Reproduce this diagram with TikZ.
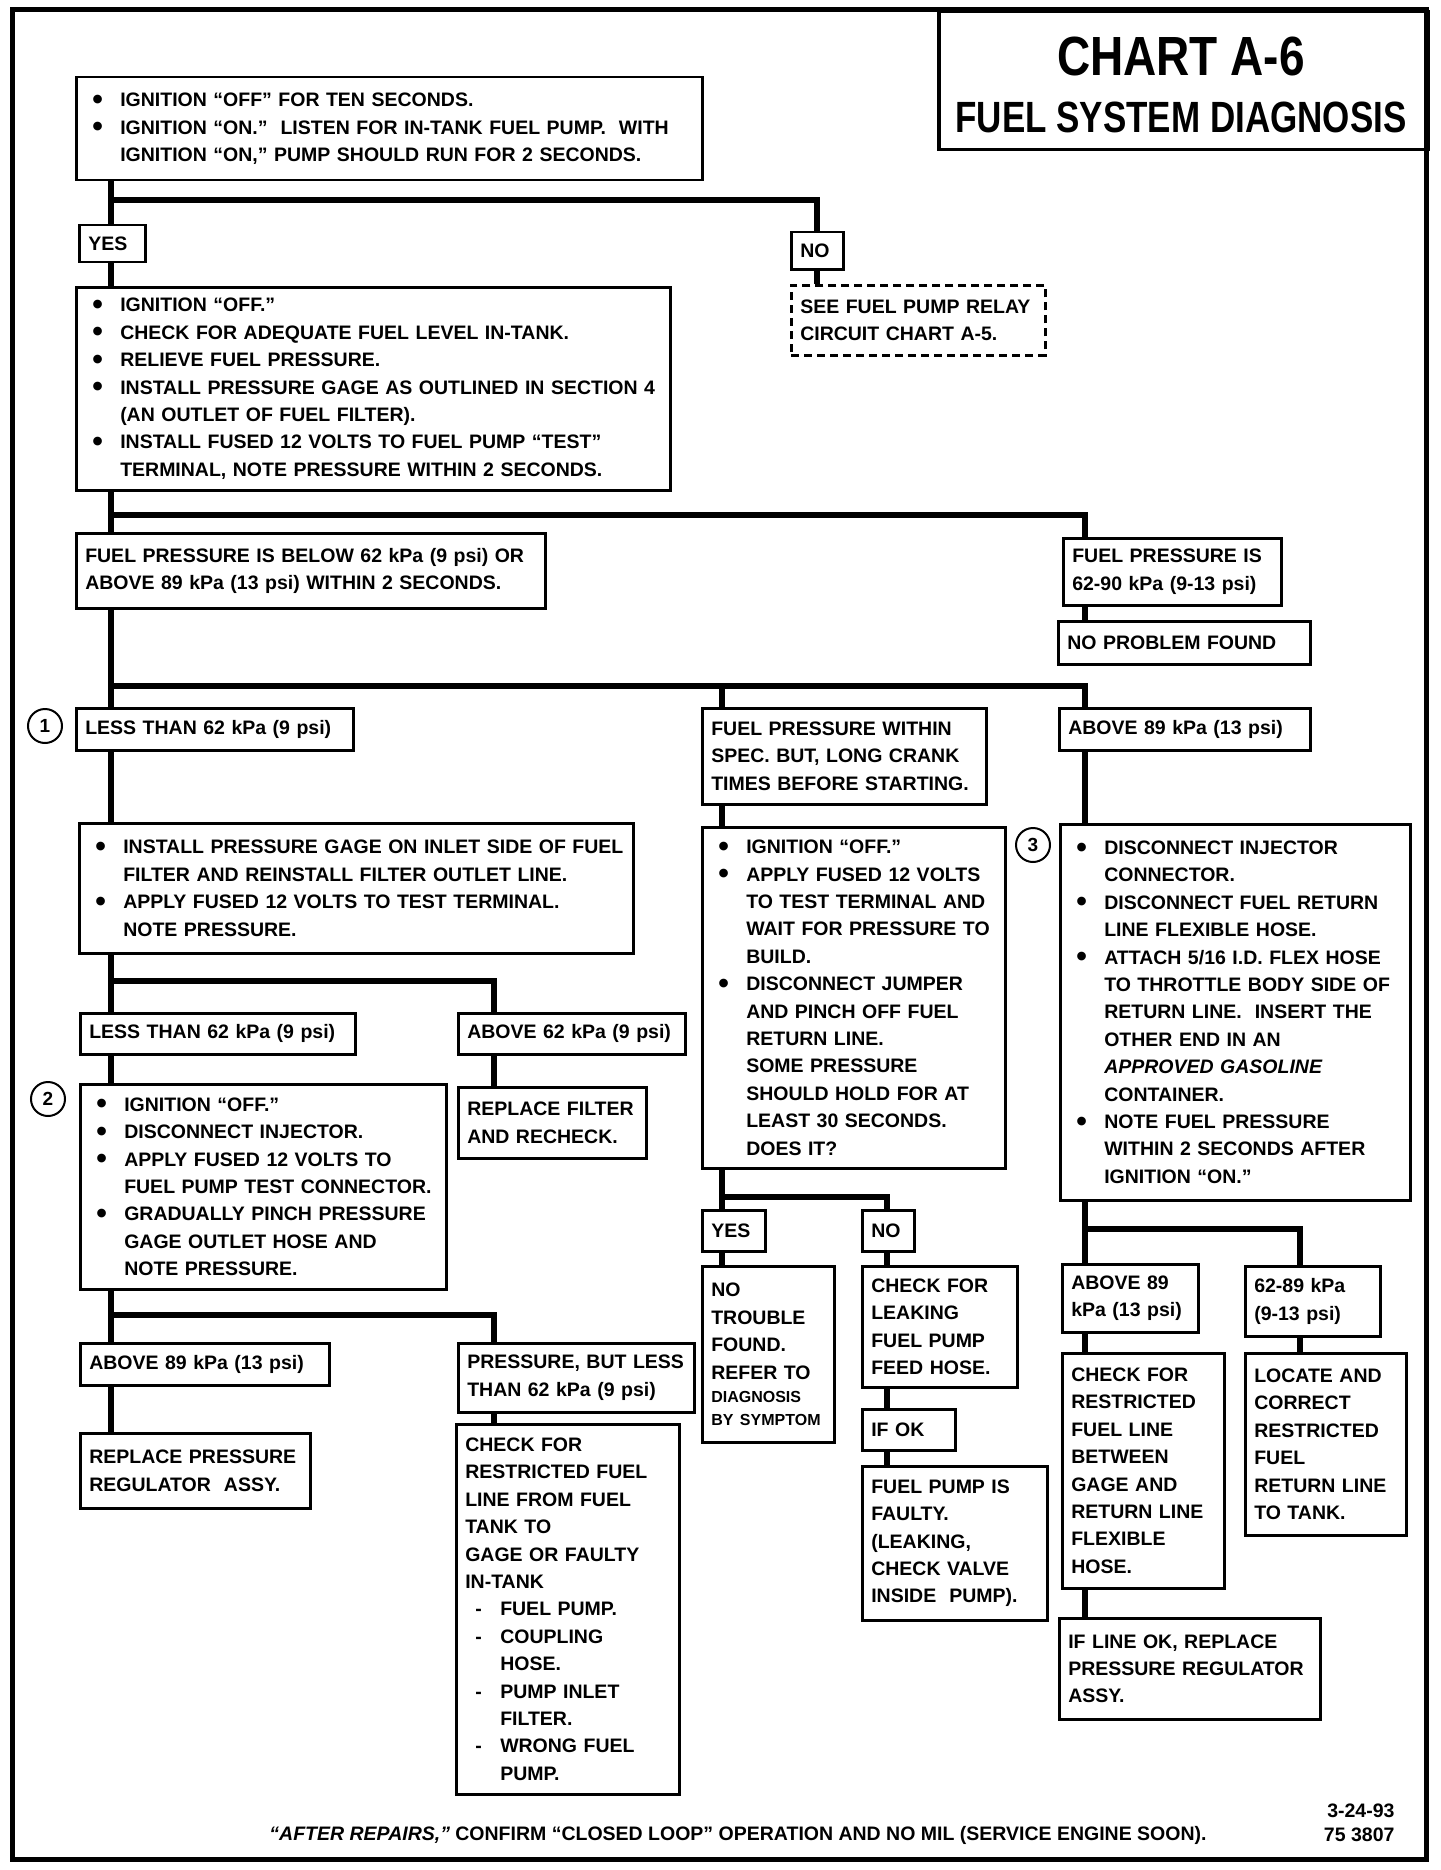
\documentclass[tikz,border=0pt]{standalone}
\usepackage{fontspec}
\setmainfont{Liberation Sans}
\usepackage{tikz}
\usetikzlibrary{backgrounds}
\setlength{\parindent}{0pt}

\newcommand{\boxfont}{\bfseries\fontsize{19.5}{27.4}\selectfont}
\newcommand{\bul}{\makebox[35pt][l]{\hspace{7pt}\raisebox{-0.25ex}{\scalebox{1.55}{\textbullet}}}}
\newcommand{\dsh}{\makebox[35pt][l]{\hspace{10pt}-}}
\newcommand{\hng}{\hspace*{35pt}}

\tikzset{
  box/.style={draw, line width=2.5pt, fill=white, anchor=north west,
    inner xsep=9pt, inner ysep=0pt, align=left, font=\boxfont},
  dashbox/.style={box, dash pattern=on 8pt off 5pt},
  trunk/.style={line width=6pt},
  numc/.style={circle, draw, line width=2pt, fill=white, minimum size=34pt,
    inner sep=0pt, font=\bfseries\fontsize{19}{19}\selectfont},
}

\begin{document}
\begin{tikzpicture}[x=1pt, y=-1pt]
  \useasboundingbox (0,0) rectangle (1440,1870);
  \draw[line width=5pt] (12,10) rectangle (1426,1859);
  \node[draw, line width=3.5pt, anchor=north west, minimum width=489pt,
    minimum height=138pt, inner sep=0pt] (title) at (937,10) {};
  \node[font=\bfseries\fontsize{46}{46}\selectfont] (chart) at (1181,57)
    {\scalebox{1}[1.2]{CHART A-6}};
  \node[font=\bfseries\fontsize{35}{35}\selectfont] (fsd) at (1181,117)
    {\scalebox{1}[1.25]{FUEL SYSTEM DIAGNOSIS}};

  \node[box, text width=608pt, minimum height=103pt] (start) at (75,76)
    {\bul IGNITION “OFF” FOR TEN SECONDS.\\
     \bul IGNITION “ON.”\ \ LISTEN FOR IN-TANK FUEL PUMP.\ \ WITH\\
     \hng IGNITION “ON,” PUMP SHOULD RUN FOR 2 SECONDS.};
  \node[box, text width=48pt, minimum height=37pt] (yes) at (78,224) {YES};
  \node[box, text width=34pt, minimum height=37pt] (no) at (790,231) {NO};
  \node[dashbox, text width=236pt, minimum height=70pt] (see) at (790,284)
    {SEE FUEL PUMP RELAY\\CIRCUIT CHART A-5.};
  \node[box, text width=576pt, minimum height=203pt] (chk) at (75,286)
    {\bul IGNITION “OFF.”\\
     \bul CHECK FOR ADEQUATE FUEL LEVEL IN-TANK.\\
     \bul RELIEVE FUEL PRESSURE.\\
     \bul INSTALL PRESSURE GAGE AS OUTLINED IN SECTION 4\\
     \hng (AN OUTLET OF FUEL FILTER).\\
     \bul INSTALL FUSED 12 VOLTS TO FUEL PUMP “TEST”\\
     \hng TERMINAL, NOTE PRESSURE WITHIN 2 SECONDS.};
  \node[box, text width=451pt, minimum height=75pt] (fplow) at (75,532)
    {FUEL PRESSURE IS BELOW 62 kPa (9 psi) OR\\ABOVE 89 kPa (13 psi) WITHIN 2 SECONDS.};
  \node[box, text width=200pt, minimum height=67pt] (fpok) at (1062,537)
    {FUEL PRESSURE IS\\62-90 kPa (9-13 psi)};
  \node[box, text width=234pt, minimum height=43pt] (npf) at (1057,620) {NO PROBLEM FOUND};

  \node[box, text width=259pt, minimum height=42pt] (lt1) at (75,707) {LESS THAN 62 kPa (9 psi)};
  \node[box, text width=266pt, minimum height=96pt] (fpw) at (701,707)
    {FUEL PRESSURE WITHIN\\SPEC. BUT, LONG CRANK\\TIMES BEFORE STARTING.};
  \node[box, text width=233pt, minimum height=42pt] (a89) at (1058,707) {ABOVE 89 kPa (13 psi)};
  \node[numc] (n1) at (45,726) {1};

  \node[box, text width=536pt, minimum height=130pt] (gage) at (78,822)
    {\bul INSTALL PRESSURE GAGE ON INLET SIDE OF FUEL\\
     \hng FILTER AND REINSTALL FILTER OUTLET LINE.\\
     \bul APPLY FUSED 12 VOLTS TO TEST TERMINAL.\\
     \hng NOTE PRESSURE.};
  \node[box, text width=285pt, minimum height=341pt] (crank) at (701,826)
    {\bul IGNITION “OFF.”\\
     \bul APPLY FUSED 12 VOLTS\\
     \hng TO TEST TERMINAL AND\\
     \hng WAIT FOR PRESSURE TO\\
     \hng BUILD.\\
     \bul DISCONNECT JUMPER\\
     \hng AND PINCH OFF FUEL\\
     \hng RETURN LINE.\\
     \hng SOME PRESSURE\\
     \hng SHOULD HOLD FOR AT\\
     \hng LEAST 30 SECONDS.\\
     \hng DOES IT?};
  \node[box, text width=332pt, minimum height=376pt] (inj) at (1059,823)
    {\bul DISCONNECT INJECTOR\\
     \hng CONNECTOR.\\
     \bul DISCONNECT FUEL RETURN\\
     \hng LINE FLEXIBLE HOSE.\\
     \bul ATTACH 5/16 I.D. FLEX HOSE\\
     \hng TO THROTTLE BODY SIDE OF\\
     \hng RETURN LINE.\ \ INSERT THE\\
     \hng OTHER END IN AN\\
     \hng \textit{APPROVED GASOLINE}\\
     \hng CONTAINER.\\
     \bul NOTE FUEL PRESSURE\\
     \hng WITHIN 2 SECONDS AFTER\\
     \hng IGNITION “ON.”};
  \node[numc] (n3) at (1033,845) {3};

  \node[box, text width=257pt, minimum height=41pt] (lt2) at (79,1012) {LESS THAN 62 kPa (9 psi)};
  \node[box, text width=209pt, minimum height=41pt] (a62) at (457,1012) {ABOVE 62 kPa (9 psi)};
  \node[box, text width=170pt, minimum height=71pt] (rf) at (457,1086)
    {REPLACE FILTER\\AND RECHECK.};
  \node[box, text width=348pt, minimum height=205pt] (pinch) at (79,1083)
    {\bul IGNITION “OFF.”\\
     \bul DISCONNECT INJECTOR.\\
     \bul APPLY FUSED 12 VOLTS TO\\
     \hng FUEL PUMP TEST CONNECTOR.\\
     \bul GRADUALLY PINCH PRESSURE\\
     \hng GAGE OUTLET HOSE AND\\
     \hng NOTE PRESSURE.};
  \node[numc] (n2) at (48,1099) {2};

  \node[box, text width=231pt, minimum height=42pt] (a89b) at (79,1342) {ABOVE 89 kPa (13 psi)};
  \node[box, text width=218pt, minimum height=69pt] (pbl) at (457,1342)
    {PRESSURE, BUT LESS\\THAN 62 kPa (9 psi)};
  \node[box, text width=212pt, minimum height=75pt] (rpr) at (79,1432)
    {REPLACE PRESSURE\\REGULATOR\ \ ASSY.};
  \node[box, text width=205pt, minimum height=370pt] (cfr) at (455,1423)
    {CHECK FOR\\RESTRICTED FUEL\\LINE FROM FUEL\\TANK TO\\GAGE OR FAULTY\\IN-TANK\\
     \dsh FUEL PUMP.\\
     \dsh COUPLING\\
     \hng HOSE.\\
     \dsh PUMP INLET\\
     \hng FILTER.\\
     \dsh WRONG FUEL\\
     \hng PUMP.};

  \node[box, text width=45pt, minimum height=41pt] (yes2) at (701,1209) {YES};
  \node[box, text width=34pt, minimum height=41pt] (no2) at (861,1209) {NO};
  \node[box, text width=114pt, minimum height=176pt] (ntf) at (701,1265)
    {NO\\TROUBLE\\FOUND.\\REFER TO\\
     {\fontsize{16}{23}\selectfont DIAGNOSIS\\BY SYMPTOM\par}};
  \node[box, text width=137pt, minimum height=121pt] (cfl) at (861,1265)
    {CHECK FOR\\LEAKING\\FUEL PUMP\\FEED HOSE.};
  \node[box, text width=75pt, minimum height=41pt] (ifok) at (861,1408) {IF OK};
  \node[box, text width=167pt, minimum height=154pt] (fpf) at (861,1465)
    {FUEL PUMP IS\\FAULTY.\\(LEAKING,\\CHECK VALVE\\INSIDE\ \ PUMP).};

  \node[box, text width=118pt, minimum height=68pt] (a89c) at (1061,1263)
    {ABOVE 89\\kPa (13 psi)};
  \node[box, text width=117pt, minimum height=70pt] (r6289) at (1244,1265)
    {62-89 kPa\\(9-13 psi)};
  \node[box, text width=144pt, minimum height=235pt] (cfrb) at (1061,1352)
    {CHECK FOR\\RESTRICTED\\FUEL LINE\\BETWEEN\\GAGE AND\\RETURN LINE\\FLEXIBLE\\HOSE.};
  \node[box, text width=143pt, minimum height=182pt] (lac) at (1244,1352)
    {LOCATE AND\\CORRECT\\RESTRICTED\\FUEL\\RETURN LINE\\TO TANK.};
  \node[box, text width=243pt, minimum height=101pt] (ilo) at (1058,1617)
    {IF LINE OK, REPLACE\\PRESSURE REGULATOR\\ASSY.};

  \node[font=\boxfont] (repairs) at (738,1835)
    {\textit{“AFTER REPAIRS,”} CONFIRM “CLOSED LOOP” OPERATION AND NO MIL (SERVICE ENGINE SOON).};
  \node[font=\bfseries\fontsize{19.5}{24}\selectfont, align=right, anchor=east] (code)
    at (1398,1823) {3-24-93\\75 3807};

  \coordinate (j1) at (111,200);
  \coordinate (j2) at (111,515);
  \coordinate (r2) at (1085,515);
  \coordinate (j3) at (111,686);
  \coordinate (m3) at (722,686);
  \coordinate (r3) at (1085,686);
  \coordinate (j4) at (111,981);
  \coordinate (a4) at (494,981);
  \coordinate (j5) at (111,1315);
  \coordinate (a5) at (494,1315);
  \coordinate (m6) at (722,1197);
  \coordinate (n6) at (887,1197);
  \coordinate (r7) at (1085,1229);
  \coordinate (s7) at (1300,1229);

  \begin{scope}[on background layer]
    \draw[trunk] (j1 |- start.south) -- (j1 |- rpr.north);
    \draw[trunk] (j1) -| (no.north);
    \draw[trunk] (no.south) -- (no.south |- see.north);
    \draw[trunk] (j2) -- (r2) -- (r2 |- npf.north);
    \draw[trunk] (j3) -- (r3) -- (r3 |- ilo.north);
    \draw[trunk] (m3) -- (m3 |- ntf.north);
    \draw[trunk] (j4) -- (a4) -- (a4 |- rf.north);
    \draw[trunk] (j5) -- (a5) -- (a5 |- cfr.north);
    \draw[trunk] (m6) -- (n6) -- (n6 |- fpf.north);
    \draw[trunk] (r7) -- (s7) -- (s7 |- lac.north);
  \end{scope}
\end{tikzpicture}
\end{document}
